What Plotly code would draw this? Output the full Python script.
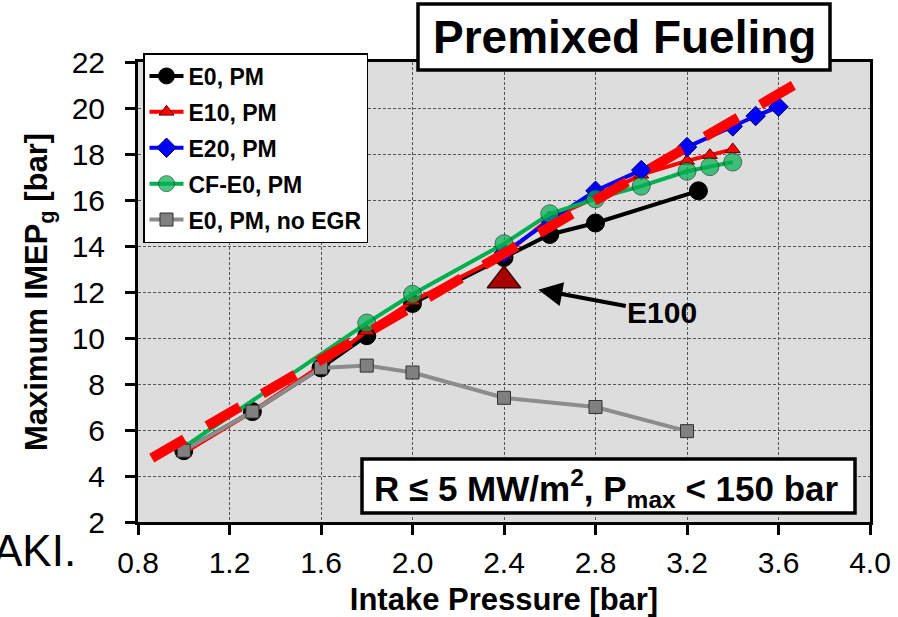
import plotly.graph_objects as go

# ---------------- data ----------------
e0_x = [1.0, 1.3, 1.6, 1.8, 2.0, 2.4, 2.6, 2.8, 3.25]
e0_y = [5.1, 6.8, 8.7, 10.1, 11.5, 13.5, 14.5, 15.0, 16.4]

e10_x = [1.0, 1.3, 1.6, 1.8, 2.0, 2.4, 2.6, 2.8, 3.0, 3.2, 3.3, 3.4]
e10_y = [5.0, 6.8, 8.8, 10.3, 11.6, 13.6, 15.2, 16.1, 17.1, 17.7, 17.95, 18.2]

e20_x = [2.4, 2.6, 2.8, 3.0, 3.2, 3.4, 3.5, 3.6]
e20_y = [13.7, 15.1, 16.4, 17.3, 18.3, 19.2, 19.65, 20.05]

cf_x = [1.0, 1.8, 2.0, 2.4, 2.6, 2.8, 3.0, 3.2, 3.3, 3.4]
cf_y = [5.25, 10.65, 11.9, 14.1, 15.4, 16.05, 16.6, 17.25, 17.45, 17.65]

noegr_x = [1.0, 1.3, 1.6, 1.8, 2.0, 2.4, 2.8, 3.2]
noegr_y = [5.1, 6.8, 8.7, 8.8, 8.5, 7.4, 7.0, 5.95]

fit_x = [0.86, 3.72]
fit_y = [4.78, 21.3]

e100_x = [2.4]
e100_y = [12.5]
e100_arrow_target = (2.55, 12.1)

x_ticks = [0.8, 1.2, 1.6, 2.0, 2.4, 2.8, 3.2, 3.6, 4.0]
x_tick_labels = ["0.8", "1.2", "1.6", "2.0", "2.4", "2.8", "3.2", "3.6", "4.0"]
y_ticks = [2, 4, 6, 8, 10, 12, 14, 16, 18, 20, 22]

FONT = "Liberation Sans, Arial, sans-serif"

fig = go.Figure()

fig.add_trace(go.Scatter(
    x=e0_x, y=e0_y, name="<b>E0, PM</b>", mode="lines+markers", legendgroup="a",
    line=dict(color="black", width=4),
    marker=dict(symbol="circle", size=18, color="black", line=dict(color="black", width=1))))

fig.add_trace(go.Scatter(
    x=e10_x, y=e10_y, name="<b>E10, PM</b>", mode="lines+markers", legendgroup="b",
    line=dict(color="#ff0000", width=4),
    marker=dict(symbol="triangle-up", size=13, color="#ff0000", line=dict(color="#600000", width=1))))

fig.add_trace(go.Scatter(
    x=e20_x, y=e20_y, name="<b>E20, PM</b>", mode="lines+markers", legendgroup="c",
    line=dict(color="#0000ff", width=4),
    marker=dict(symbol="diamond", size=15, color="#0000ff", line=dict(color="#000060", width=1))))

fig.add_trace(go.Scatter(
    x=cf_x, y=cf_y, name="<b>CF-E0, PM</b>", mode="lines+markers", legendgroup="d",
    line=dict(color="#00b050", width=4),
    marker=dict(symbol="circle", size=[0] + [18] * (len(cf_x) - 1), color="#00b050",
                line=dict(color="#004020", width=1))))

fig.add_trace(go.Scatter(
    x=noegr_x, y=noegr_y, name="<b>E0, PM, no EGR</b>", mode="lines+markers", legendgroup="e",
    line=dict(color="#8c8c8c", width=4),
    marker=dict(symbol="square", size=13, color="#808080", line=dict(color="#303030", width=1))))

fig.add_trace(go.Scatter(
    x=fit_x, y=fit_y, mode="lines", showlegend=False,
    line=dict(color="#ff0000", width=10, dash="38px,26px")))

fig.add_trace(go.Scatter(
    x=e100_x, y=e100_y, mode="markers", showlegend=False,
    marker=dict(symbol="triangle-up", size=29, color="#a80000", line=dict(color="#400000", width=1.5))))

axis_common = dict(
    showline=True, linecolor="black", linewidth=3, mirror=True,
    ticks="outside", ticklen=10, tickwidth=3, tickcolor="black",
    showgrid=True, gridcolor="#555555", gridwidth=1, griddash="3px,2px",
    zeroline=False, automargin=False,
    tickfont=dict(family=FONT, size=30, color="black"),
)

fig.update_xaxes(
    range=[0.8, 4.0], tickvals=x_ticks, ticktext=x_tick_labels,
    title=dict(text="<b>Intake Pressure [bar]</b>", font=dict(family=FONT, size=31, color="black")),
    ticklabelstandoff=2,
    **axis_common)
fig.update_yaxes(
    range=[2, 22], tickvals=y_ticks,
    title=dict(text="<b>Maximum IMEP<sub>g</sub> [bar]</b>", font=dict(family=FONT, size=31, color="black")),
    ticklabelstandoff=14,
    **axis_common)

# pixel->paper helpers for layout decorations
L, R, T, B = 138, 870, 62, 522
def px(x):
    return (x - L) / (R - L)
def py(y):
    return (B - y) / (B - T)

fig.add_shape(type="rect", xref="paper", yref="paper", layer="above",
              x0=px(418), x1=px(830), y0=py(70), y1=py(4),
              fillcolor="white", line=dict(color="black", width=3.5))
fig.add_annotation(xref="paper", yref="paper", x=px(624), y=py(37),
                   xanchor="center", yanchor="middle", showarrow=False,
                   text="<b>Premixed Fueling</b>", font=dict(family=FONT, size=46, color="black"))

fig.add_shape(type="rect", xref="paper", yref="paper", layer="above",
              x0=px(362), x1=px(855), y0=py(513), y1=py(459),
              fillcolor="white", line=dict(color="black", width=3.5))
fig.add_annotation(xref="paper", yref="paper", x=px(606), y=py(488),
                   xanchor="center", yanchor="middle", showarrow=False,
                   text="<b>R ≤ 5 MW/m<sup>2</sup>, P<sub>max</sub> &lt; 150 bar</b>",
                   font=dict(family=FONT, size=35, color="black"))

fig.add_annotation(x=e100_arrow_target[0], y=e100_arrow_target[1], xref="x", yref="y",
                   text="<b>E100</b>", showarrow=True, ax=124, ay=23,
                   arrowhead=2, arrowsize=1.2, arrowwidth=4, arrowcolor="black",
                   font=dict(family=FONT, size=30, color="black"))

fig.add_annotation(xref="paper", yref="paper", x=px(-9), y=py(550),
                   xanchor="left", yanchor="middle",
                   showarrow=False, text="AKI.",
                   font=dict(family=FONT, size=44, color="black"))

fig.update_layout(
    width=898, height=617,
    margin=dict(l=L, r=898 - R, t=T, b=617 - B),
    paper_bgcolor="white", plot_bgcolor="#dddddd",
    showlegend=True,
    legend=dict(x=px(143), y=py(53), xanchor="left", yanchor="top",
                bgcolor="white", bordercolor="black", borderwidth=1.5,
                font=dict(family=FONT, size=23, color="black"),
                tracegroupgap=3, itemwidth=34),
)

fig.write_html("out.html")
